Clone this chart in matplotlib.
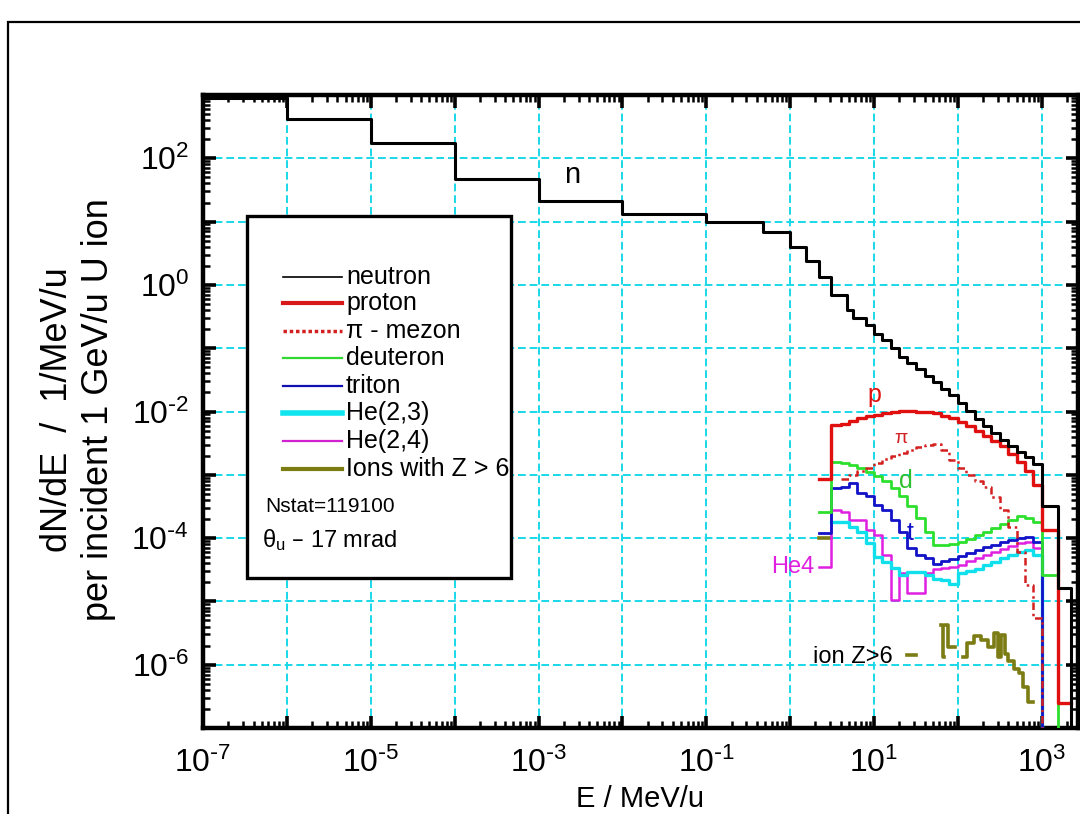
import numpy as np
import matplotlib.pyplot as plt
from matplotlib.lines import Line2D
from matplotlib.patches import Rectangle
from matplotlib.ticker import FixedLocator, LogLocator, FuncFormatter, NullFormatter

plt.rcParams['font.family'] = ['Liberation Sans', 'DejaVu Sans']
plt.rcParams['mathtext.default'] = 'regular'

W, H = 1080, 814

# neutron spectrum, bin edges in MeV/u and dN/dE per bin
n_edges = [1e-7, 1e-6, 1e-5, 1e-4, 1e-3, 1e-2, 0.1, 0.48, 1.0, 1.55, 2.2, 3.1,
           4.8, 5.6, 8, 10, 12.6, 15.8, 20, 25, 31.6, 40, 50, 63, 79, 100,
           126, 158, 200, 251, 316, 398, 501, 631, 794, 1000, 1550, 2200, 3000]
n_vals = [900, 425, 172, 47, 21, 13, 10, 6.9, 4.0, 2.4, 1.35, 0.69,
          0.40, 0.30, 0.23, 0.17, 0.135, 0.10, 0.073, 0.059, 0.047, 0.036, 0.029,
          0.023, 0.018, 0.0135, 0.0102, 0.0076, 0.0059, 0.0046, 0.0035, 0.0029,
          0.0023, 0.0019, 0.0015, 3.2e-4, 1.6e-5, 1e-9]

# charged fragments share one binning
f_edges = [2.2, 3.1, 4, 5, 6.3, 8, 10, 12.6, 15.8, 20, 25, 31.6, 40, 50, 63, 79,
           100, 126, 158, 200, 251, 316, 398, 501, 631, 794, 1000, 1550, 2200]
nan = np.nan
p_vals = [8.7e-4, 6.2e-3, 6.4e-3, 7.1e-3, 7.9e-3, 8.5e-3, 8.9e-3, 9.5e-3, 9.8e-3,
          1.02e-2, 1.02e-2, 9.8e-3, 9.8e-3, 9.3e-3, 8.6e-3, 7.8e-3, 6.9e-3, 5.9e-3,
          4.9e-3, 4.1e-3, 3.4e-3, 2.8e-3, 2.1e-3, 1.6e-3, 1.15e-3, 6.9e-4, 1.35e-4, 2.5e-7]
pi_vals = [nan, nan, 8.7e-4, 1.0e-3, 1.15e-3, 1.3e-3, 1.55e-3, 1.8e-3, 2.0e-3, 2.2e-3,
           2.5e-3, 2.7e-3, 3.0e-3, 3.1e-3, 2.5e-3, 1.7e-3, 1.3e-3, 1.0e-3, 8e-4, 6.4e-4,
           4.5e-4, 2.8e-4, 1.5e-4, 6e-5, 1.8e-5, 5.5e-6, 1e-9, 1e-9]
d_vals = [2.6e-4, 1.6e-3, 1.55e-3, 1.45e-3, 1.3e-3, 1.1e-3, 9.6e-4, 8e-4, 6.2e-4, 4.7e-4,
          3.2e-4, 2.1e-4, 1.25e-4, 7.8e-5, 7.8e-5, 8.1e-5, 8.7e-5, 9.8e-5, 1.12e-4,
          1.26e-4, 1.45e-4, 1.66e-4, 1.95e-4, 2.2e-4, 2.1e-4, 1.8e-4, 2.6e-5, 1e-9]
t_vals = [1.2e-4, 6.2e-4, 6.5e-4, 7.5e-4, 5.2e-4, 4.7e-4, 3.3e-4, 2.8e-4, 1.95e-4, 1.26e-4,
          7e-5, 5.4e-5, 4.9e-5, 3.9e-5, 4.4e-5, 4.7e-5, 5.2e-5, 5.9e-5, 6.5e-5, 7.2e-5,
          7.8e-5, 8.7e-5, 9.3e-5, 1.0e-4, 1.05e-4, 8.7e-5, 1e-9, 1e-9]
he3_vals = [nan, 1.8e-4, 1.8e-4, 1.5e-4, 1.26e-4, 8.4e-5, 5.0e-5, 4.2e-5, 3.4e-5, 2.6e-5,
            2.9e-5, 2.9e-5, 2.6e-5, 2.3e-5, 2.2e-5, 1.9e-5, 2.8e-5, 3.0e-5, 3.3e-5, 3.8e-5,
            4.2e-5, 4.9e-5, 5.4e-5, 6.0e-5, 6.5e-5, 5.4e-5, 1e-9, 1e-9]
he4_vals = [3.5e-5, 2.8e-4, 2.6e-4, 1.95e-4, 1.95e-4, 1.35e-4, 1.12e-4, 5.4e-5, 1.05e-5,
            2.8e-5, 1.35e-5, 1.35e-5, 2.8e-5, 3.2e-5, 3.4e-5, 3.5e-5, 3.8e-5, 4.4e-5,
            4.9e-5, 5.4e-5, 6.0e-5, 6.8e-5, 7.5e-5, 8.4e-5, 8.7e-5, 7.1e-5, 1e-9, 1e-9]

# heavy ions (Z > 6), sparse
ion_edges = [2.2, 3.1, 25, 31.6, 63, 66, 69, 72, 76, 92, 115, 130, 155, 187, 228,
             270, 300, 324, 360, 398, 468, 540, 595, 680, 780]
ion_vals = [1.0e-4, nan, 1.4e-6, nan, 4.3e-6, 1.3e-6, nan, 4.3e-6, 1.9e-6, nan,
            1.3e-6, 2.2e-6, 2.8e-6, 2.5e-6, 1.9e-6, 3.2e-6, 1.3e-6, 2.9e-6, 1.5e-6,
            1.15e-6, 8.5e-7, 7.4e-7, 4.5e-7, 2.6e-7]

x_label_exps = [-7, -5, -3, -1, 1, 3]
y_label_exps = [-6, -4, -2, 0, 2]


def hist(ax, edges, vals, **kw):
    ax.step(edges, list(vals) + [vals[-1]], where='post', **kw)


fig = plt.figure(figsize=(W / 100, H / 100), dpi=100)
ax = fig.add_axes([203 / W, 1 - 728 / H, 875 / W, 633 / H])
ax.set_xscale('log')
ax.set_yscale('log')

hist(ax, ion_edges, ion_vals, color='#7c7c14', lw=2.6, zorder=3)
hist(ax, f_edges, he4_vals, color='#e020e0', lw=1.8, zorder=3)
hist(ax, f_edges, he3_vals, color='#10e0ec', lw=2.4, zorder=3)
hist(ax, f_edges, t_vals, color='#1212c8', lw=2.0, zorder=3)
hist(ax, f_edges, d_vals, color='#2ee02e', lw=2.0, zorder=3)
hist(ax, f_edges, pi_vals, color='#d42020', lw=1.8, ls=(0, (3, 1.5, 1, 1.5)), zorder=3)
hist(ax, f_edges, p_vals, color='#e01010', lw=2.4, zorder=3)
hist(ax, n_edges, n_vals, color='black', lw=2.2, zorder=4)

ax.set_xlim(1e-7, 2.7e3)
ax.set_ylim(1e-7, 1e3)

ax.xaxis.set_major_locator(FixedLocator([10.0 ** k for k in range(-7, 4)]))
ax.yaxis.set_major_locator(FixedLocator([10.0 ** k for k in range(-7, 4)]))
ax.xaxis.set_minor_locator(LogLocator(base=10, subs=np.arange(2, 10), numticks=30))
ax.yaxis.set_minor_locator(LogLocator(base=10, subs=np.arange(2, 10), numticks=30))
ax.xaxis.set_minor_formatter(NullFormatter())
ax.yaxis.set_minor_formatter(NullFormatter())


def make_fmt(exps):
    def f(v, pos):
        k = int(round(np.log10(v)))
        if k not in exps:
            return ''
        if k < 0:
            return r'$10^{\text{-}%d}$' % (-k)
        return r'$10^{%d}$' % k
    return FuncFormatter(f)


ax.xaxis.set_major_formatter(make_fmt(x_label_exps))
ax.yaxis.set_major_formatter(make_fmt(y_label_exps))

ax.tick_params(which='both', direction='in', top=True, right=True, labelsize=23)
ax.tick_params(which='major', length=9, width=2.6)
ax.tick_params(which='minor', length=5, width=1.8)
ax.tick_params(axis='x', which='major', pad=14)
ax.tick_params(axis='y', which='major', pad=10)
for s in ax.spines.values():
    s.set_linewidth(3.2)

ax.set_axisbelow(True)
ax.grid(which='major', color='#1ad8e8', linestyle=(0, (4, 2)), linewidth=1.4)

ax.set_xlabel('E / MeV/u', fontsize=21, va='baseline')
ax.xaxis.set_label_coords(0.5, (728 - 807) / 633)
ax.set_ylabel('dN/dE  /  1/MeV/u\nper incident 1 GeV/u U ion', fontsize=26,
              va='center', linespacing=1.25)
ax.yaxis.set_label_coords((78 - 203) / 875, (728 - 410) / 633)

# curve labels
ax.text(2.5e-3, 55, 'n', fontsize=21, ha='center', va='center')
ax.text(10, 0.018, 'p', fontsize=18, color='#e01010', ha='center', va='center')
ax.text(21, 3.8e-3, 'π', fontsize=14, color='#d42020', ha='center', va='center')
ax.text(24, 8e-4, 'd', fontsize=18, color='#2ec02e', ha='center', va='center')
ax.text(27, 1.2e-4, 't', fontsize=18, color='#1212c8', ha='center', va='center')
ax.text(1.93, 3.5e-5, 'He4', fontsize=17, color='#e020e0', ha='right', va='center')
ax.text(1.85, 1.3e-6, 'ion Z>6', fontsize=17, ha='left', va='center')


def fx(x):
    return x / W


def fy(y):
    return 1 - y / H


# legend box
fig.add_artist(Rectangle((fx(247), fy(578)), 264 / W, 362 / H, transform=fig.transFigure,
                         facecolor='white', edgecolor='black', lw=2.4, zorder=5))
legend_rows = [
    ('neutron', 'black', 1.2, '-', 277),
    ('proton', '#d81818', 3.0, '-', 303),
    ('π - mezon', '#d42020', 2.5, (0, (1, 0.8)), 331),
    ('deuteron', '#30d830', 1.6, '-', 358),
    ('triton', '#1010b0', 1.6, '-', 386),
    ('He(2,3)', '#10e4ee', 4.0, '-', 413),
    ('He(2,4)', '#d020d0', 1.6, '-', 441),
    ('Ions with Z > 6', '#7c7c14', 3.0, '-', 469),
]
for label, c, lw, ls, yp in legend_rows:
    fig.add_artist(Line2D([fx(283), fx(342)], [fy(yp), fy(yp)], transform=fig.transFigure,
                          color=c, lw=lw, ls=ls, zorder=6))
    fig.text(fx(346), fy(yp), label, fontsize=18, ha='left', va='center', zorder=6)
fig.text(fx(265), fy(507), 'Nstat=119100', fontsize=15, ha='left', va='center', zorder=6)
fig.text(fx(262), fy(540), r'$\theta_u$ – 17 mrad', fontsize=17, ha='left', va='center', zorder=6)

# outer frame
fig.add_artist(Rectangle((fx(8), -0.05), 1.1, fy(22) + 0.05, transform=fig.transFigure,
                         fill=False, edgecolor='black', lw=1.6, clip_on=False))

fig.savefig('out.png', dpi=100)
